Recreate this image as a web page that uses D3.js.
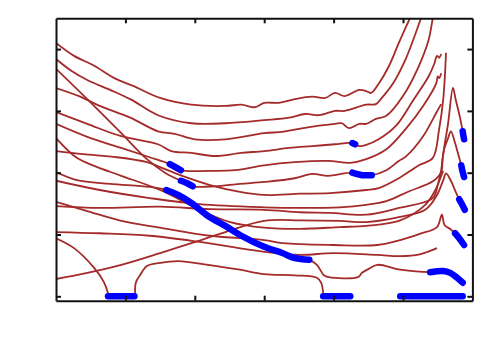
<!DOCTYPE html>
<html>
<head>
<meta charset="UTF-8" />
<title>Branches</title>
<style>body { margin: 0; background: #fff; }</style>
</head>
<body>
<script src="https://d3js.org/d3.v7.min.js"></script>
<script>
// tick positions (no labels in the original)
var xTicks = [1, 2, 3, 4, 5];
var yTicks = [0, 1, 2, 3, 4];

// brown branches, [x, y]
var curveA = [[0,4.10],[0.26,3.89],[0.55,3.73],[0.84,3.53],[1.12,3.40],[1.50,3.21],[1.95,3.10],[2.44,3.08],[2.67,3.10],[2.87,3.06],[3.00,3.13],[3.21,3.13],[3.44,3.19],[3.69,3.23],[3.88,3.21],[4.02,3.29],[4.16,3.24],[4.37,3.34],[4.47,3.32],[4.54,3.29],[4.65,3.44],[4.80,3.73],[4.94,4.10],[5.10,4.50],[5.15,4.62]];
var curveB = [[0,3.84],[0.22,3.65],[0.45,3.50],[0.78,3.34],[1.07,3.19],[1.47,2.93],[1.95,2.80],[2.44,2.80],[3.00,2.85],[3.36,2.89],[3.59,2.95],[3.79,2.93],[4.02,3.00],[4.16,3.00],[4.47,3.10],[4.61,3.11],[4.68,3.19],[4.86,3.45],[5.04,3.84],[5.26,4.50],[5.30,4.62]];
var curveC = [[0,3.37],[0.35,3.23],[0.63,3.08],[1.07,2.89],[1.47,2.67],[1.71,2.63],[2.00,2.54],[2.44,2.54],[3.00,2.64],[3.26,2.66],[3.50,2.71],[3.79,2.76],[4.02,2.79],[4.12,2.80],[4.22,2.72],[4.37,2.79],[4.47,2.79],[4.61,2.87],[4.76,2.92],[5.00,3.24],[5.23,3.73],[5.37,4.15],[5.43,4.50],[5.46,4.62]];
var curveD = [[0,2.98],[0.45,2.79],[0.94,2.59],[1.47,2.46],[1.66,2.35],[1.95,2.32],[2.29,2.27],[2.67,2.32],[3.00,2.35],[3.36,2.40],[3.69,2.43],[4.02,2.46],[4.24,2.48],[4.29,2.46],[4.38,2.43],[4.47,2.45],[4.65,2.54],[4.90,2.76],[5.14,3.16],[5.37,3.56],[5.45,3.76],[5.49,3.89],[5.52,3.86],[5.55,3.92]];
var curveE = [[0,3.68],[0.45,3.19],[0.94,2.64],[1.31,2.22],[1.57,2.00],[1.80,1.87],[1.89,1.83],[1.97,1.78],[2.29,1.78],[2.65,1.82],[3.00,1.85],[3.44,1.91],[3.69,1.98],[3.92,1.95],[4.27,2.00],[4.41,1.96],[4.55,1.96],[4.76,2.04],[4.94,2.19],[5.04,2.26],[5.29,2.59],[5.48,2.97],[5.55,3.11]];
var curveF = [[0,2.79],[0.45,2.58],[0.94,2.40],[1.35,2.25],[1.64,2.14],[1.80,2.04],[2.19,2.03],[2.58,2.04],[3.00,2.12],[3.44,2.17],[3.92,2.19],[4.24,2.16],[4.47,2.22],[4.76,2.38],[5.04,2.71],[5.29,3.08],[5.48,3.45],[5.50,3.56],[5.52,3.53],[5.55,3.61]];
var curveG = [[0,2.35],[0.39,2.30],[0.88,2.25],[1.31,2.17],[1.50,2.09],[1.79,1.96],[2.22,1.80],[2.65,1.69],[3.00,1.64],[3.52,1.66],[3.95,1.67],[4.47,1.72],[4.65,1.75],[4.94,1.91],[5.23,2.12],[5.43,2.24],[5.52,2.70],[5.58,3.19],[5.62,3.94]];
var curveH = [[0,1.87],[0.63,1.72],[1.35,1.59],[2.07,1.49],[3.00,1.44],[3.52,1.43],[4.09,1.44],[4.47,1.48],[4.76,1.54],[5.09,1.70],[5.43,1.86],[5.55,2.01],[5.57,2.21],[5.59,2.38],[5.65,2.80],[5.72,3.37],[5.76,3.18],[5.82,2.90],[5.86,2.67],[5.88,2.54]];
var curveI = [[0,1.46],[0.63,1.43],[1.50,1.45],[2.22,1.41],[3.00,1.40],[3.52,1.36],[3.95,1.35],[4.47,1.32],[4.94,1.43],[5.43,1.59],[5.50,1.80],[5.55,2.04],[5.59,2.37],[5.65,2.56],[5.69,2.67],[5.75,2.48],[5.81,2.24],[5.84,2.12],[5.86,2.01],[5.88,1.93]];
var curveJ = [[0,0.28],[0.45,0.38],[0.94,0.51],[1.50,0.70],[1.95,0.86],[2.44,1.04],[3.00,1.22],[3.52,1.23],[4.09,1.22],[4.47,1.20],[4.94,1.28],[5.32,1.40],[5.49,1.64],[5.58,1.88],[5.62,1.99],[5.69,1.87],[5.76,1.69],[5.81,1.57],[5.85,1.49],[5.89,1.40]];
var curveK = [[0,2.56],[0.30,2.24],[0.55,2.11],[0.94,1.95],[1.50,1.72],[2.07,1.40],[2.51,1.20],[3.00,1.11],[3.52,1.09],[4.09,1.12],[4.47,1.14],[4.96,1.23],[5.32,1.48],[5.48,1.75],[5.55,1.95],[5.58,2.03]];
var curveK2 = [[0,1.53],[0.45,1.38],[0.94,1.22],[1.50,1.11],[2.22,0.98],[3.00,0.91],[3.27,0.86],[3.99,0.83],[4.63,0.83],[4.96,0.91],[5.24,1.01],[5.49,1.12],[5.56,1.32],[5.60,1.15],[5.68,1.09],[5.75,1.02],[5.81,0.94],[5.88,0.83]];
var curveL = [[0,1.04],[0.63,1.02],[1.35,0.98],[2.07,0.88],[3.00,0.72],[3.52,0.67],[3.99,0.70],[4.63,0.67],[4.96,0.65],[5.24,0.68],[5.49,0.78]];
var curveM = [[0,2.01],[0.30,1.88],[0.78,1.82],[1.35,1.77],[1.59,1.72],[1.76,1.64],[1.95,1.51],[2.19,1.30],[2.44,1.14],[2.67,0.98],[3.00,0.80],[3.26,0.70],[3.44,0.62],[3.65,0.59],[3.76,0.51],[3.86,0.34],[3.93,0.31],[4.35,0.31],[4.41,0.38],[4.50,0.44],[4.63,0.51],[4.96,0.43],[5.39,0.39],[5.58,0.41],[5.68,0.38],[5.78,0.30],[5.86,0.22]];
var curveN1 = [[0,0.94],[0.26,0.78],[0.55,0.46],[0.69,0.23],[0.75,0.05]];
var curveN2 = [[1.14,0.03],[1.15,0.22],[1.21,0.34],[1.31,0.49],[1.50,0.54],[1.76,0.57],[2.19,0.51],[2.65,0.43],[3.00,0.36],[3.44,0.34],[3.76,0.30],[3.82,0.22],[3.85,0.05]];

// blue (thick) pieces
var blueD = [[4.27,2.48],[4.31,2.46]];
var blueF = [[1.64,2.14],[1.72,2.09],[1.80,2.04]];
var blueE1 = [[1.80,1.87],[1.89,1.83],[1.97,1.78]];
var blueE2 = [[4.27,2.00],[4.41,1.96],[4.55,1.96]];
var blueH = [[5.86,2.67],[5.87,2.60],[5.88,2.54]];
var blueI = [[5.84,2.12],[5.86,2.01],[5.88,1.93]];
var blueJ = [[5.81,1.57],[5.85,1.49],[5.89,1.40]];
var blueK2 = [[5.75,1.02],[5.81,0.94],[5.88,0.83]];
var blueM1 = [[1.59,1.72],[1.76,1.64],[1.95,1.51],[2.19,1.30],[2.44,1.14],[2.67,0.98],[3.00,0.80],[3.26,0.70],[3.44,0.62],[3.65,0.59]];
var blueM2 = [[5.39,0.39],[5.58,0.41],[5.68,0.38],[5.78,0.30],[5.86,0.22]];
var blueB1 = [[0.75,0],[1.13,0]];
var blueB2 = [[3.85,0],[4.24,0]];
var blueB3 = [[4.96,0],[5.86,0]];

var brownCurves = [curveA, curveB, curveC, curveD, curveE, curveF, curveG, curveH, curveI,
    curveJ, curveK, curveK2, curveL, curveM, curveN1, curveN2];
var blueCurves = [blueD, blueF, blueE1, blueE2, blueH, blueI, blueJ, blueK2, blueM1, blueM2,
    blueB1, blueB2, blueB3];

var svg = d3.select("body").append("svg")
    .attr("width", 500)
    .attr("height", 350);

var x = d3.scaleLinear().domain([0, 6]).range([56, 472.4]);
var y = d3.scaleLinear().domain([-0.071, 4.498]).range([300.7, 18.3]);

svg.append("clipPath").attr("id", "plot")
    .append("rect")
    .attr("x", x(0)).attr("y", y(4.498))
    .attr("width", x(6) - x(0)).attr("height", y(-0.071) - y(4.498));

var line = d3.line()
    .x(function(d) { return x(d[0]); })
    .y(function(d) { return y(d[1]); })
    .curve(d3.curveCatmullRom.alpha(0.5));

var g = svg.append("g").attr("clip-path", "url(#plot)");

g.selectAll(".brown")
    .data(brownCurves)
    .join("path")
    .attr("class", "brown")
    .attr("fill", "none")
    .attr("stroke", "#a52a2a")
    .attr("stroke-width", 1.8)
    .attr("d", line);

g.selectAll(".blue")
    .data(blueCurves)
    .join("path")
    .attr("class", "blue")
    .attr("fill", "none")
    .attr("stroke", "#0000ff")
    .attr("stroke-width", 6.5)
    .attr("stroke-linecap", "round")
    .attr("stroke-linejoin", "round")
    .attr("d", line);

// frame with inward ticks on all four sides
function frame(sel) {
    sel.selectAll("path, line").attr("stroke", "#111").attr("stroke-width", 2);
}
svg.append("g").attr("transform", "translate(0," + y(-0.071) + ")")
    .call(d3.axisBottom(x).tickValues(xTicks).tickSize(-5).tickSizeOuter(0).tickFormat(""))
    .call(frame);
svg.append("g").attr("transform", "translate(0," + y(4.498) + ")")
    .call(d3.axisTop(x).tickValues(xTicks).tickSize(-5).tickSizeOuter(0).tickFormat(""))
    .call(frame);
svg.append("g").attr("transform", "translate(" + x(0) + ",0)")
    .call(d3.axisLeft(y).tickValues(yTicks).tickSize(-5).tickSizeOuter(0).tickFormat(""))
    .call(frame);
svg.append("g").attr("transform", "translate(" + x(6) + ",0)")
    .call(d3.axisRight(y).tickValues(yTicks).tickSize(-5).tickSizeOuter(0).tickFormat(""))
    .call(frame);
</script>
</body>
</html>
